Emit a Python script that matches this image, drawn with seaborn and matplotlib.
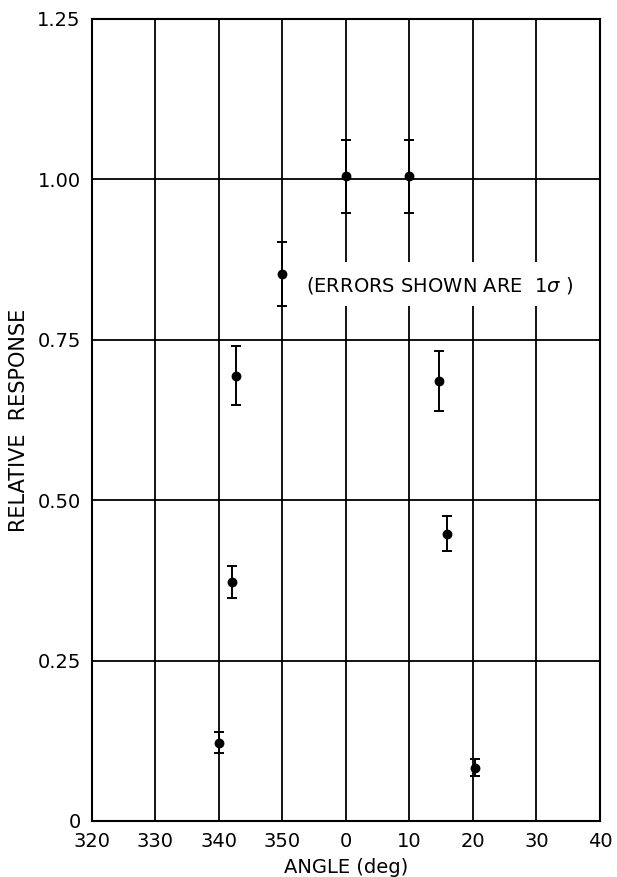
import matplotlib
matplotlib.use("Agg")
import matplotlib.pyplot as plt
from matplotlib.patches import Rectangle
import numpy as np
import pandas as pd
import seaborn as sns

# Measured angular response (angle in degrees, wrapped at 360)
angle_deg = [340.0, 342.0, 342.7, 350.0, 0.0, 10.0, 14.7, 15.9, 20.3]
response = [0.122, 0.372, 0.694, 0.852, 1.005, 1.005, 0.686, 0.448, 0.083]
sigma = [0.016, 0.025, 0.046, 0.050, 0.057, 0.057, 0.047, 0.028, 0.013]

x_ticks = [320, 330, 340, 350, 360, 370, 380, 390, 400]
x_tick_labels = ["320", "330", "340", "350", "0", "10", "20", "30", "40"]
y_ticks = [0, 0.25, 0.50, 0.75, 1.00, 1.25]
y_tick_labels = ["0", "0.25", "0.50", "0.75", "1.00", "1.25"]

sns.set_style("white")
plt.rcParams["font.family"] = ["DejaVu Sans"]
plt.rcParams["text.color"] = "black"
plt.rcParams["axes.labelcolor"] = "black"

# Unwrap angles so the scan across 0 deg is continuous
df = pd.DataFrame({
    "angle": [(a - 320.0) % 360.0 + 320.0 for a in angle_deg],
    "response": response,
    "sigma": sigma,
})

fig = plt.figure(figsize=(6.17, 8.77), dpi=100)
ax = fig.add_axes([0.149, 0.0639, 0.8233, 0.9145])

ax.set_xlim(320, 400)
ax.set_ylim(0, 1.25)
ax.set_xticks(x_ticks)
ax.set_xticklabels(x_tick_labels)
ax.set_yticks(y_ticks)
ax.set_yticklabels(y_tick_labels)

ax.grid(True, color="black", linewidth=1.3, zorder=0)
ax.set_axisbelow(True)
for s in ax.spines.values():
    s.set_color("black")
    s.set_linewidth(1.5)

ax.tick_params(axis="both", length=0, labelsize=14, colors="black")
ax.tick_params(axis="x", pad=8)
ax.tick_params(axis="y", pad=8)

ax.errorbar(df["angle"], df["response"], yerr=df["sigma"], fmt="none",
            ecolor="black", elinewidth=1.4, capsize=3.8, capthick=1.4, zorder=3)
sns.scatterplot(data=df, x="angle", y="response", ax=ax, color="black",
                s=50, edgecolor="black", linewidth=0, zorder=4, legend=False)

# White panel behind the note so the grid breaks around it
ax.add_patch(Rectangle((351.8, 0.803), 45.6, 0.068, facecolor="white",
                       edgecolor="none", zorder=2))
ax.text(374.7, 0.835, "(ERRORS SHOWN ARE  1$\\sigma$ )", fontsize=14,
        ha="center", va="center", zorder=5, color="black")

ax.set_xlabel("ANGLE (deg)", fontsize=14, labelpad=5)
ax.set_ylabel("RELATIVE  RESPONSE", fontsize=15, labelpad=6)

fig.savefig("out.png", dpi=100)
